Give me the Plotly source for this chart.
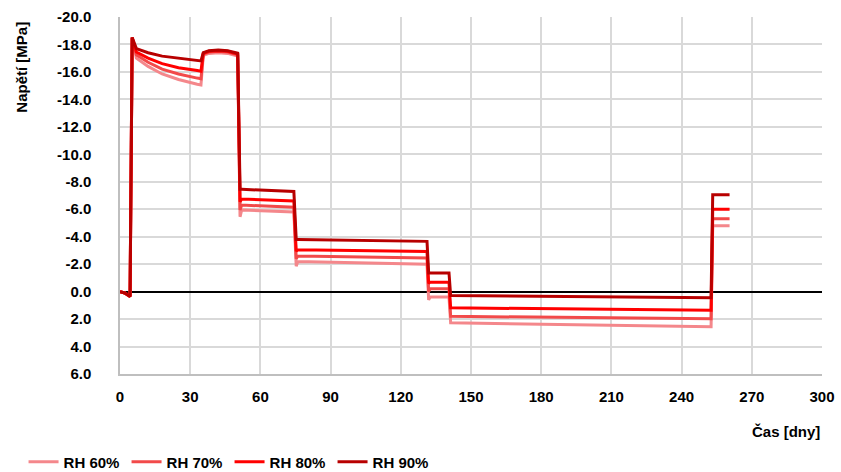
import plotly.graph_objects as go

# Time axis [days] shared by all humidity series
days = [0, 2, 4.3, 5.2, 7, 12, 18, 25, 33, 34.6, 35.6, 38, 42, 46, 50.3,
        51.3, 52.0, 74.3, 75.3, 76.0, 131.2, 131.9, 132.5, 140.6, 141.3,
        252.6, 253.3, 260.5]

# Stress [MPa] for each relative humidity
rh60 = [0, 0.1, 0.35, -18.5, -17.0, -16.4, -15.85, -15.45, -15.1, -15.05,
        -17.2, -17.35, -17.4, -17.35, -17.15, -5.45, -5.95, -5.8, -1.85,
        -2.2, -2.0, 0.6, 0.4, 0.4, 2.27, 2.55, -4.8, -4.8]
rh70 = [0, 0.1, 0.35, -18.5, -17.25, -16.7, -16.2, -15.85, -15.55, -15.5,
        -17.3, -17.45, -17.5, -17.45, -17.25, -5.95, -6.3, -6.15, -2.4,
        -2.6, -2.45, 0.0, -0.2, -0.2, 1.8, 1.98, -5.3, -5.3]
rh80 = [0, 0.1, 0.35, -18.5, -17.45, -17.0, -16.6, -16.3, -16.1, -16.05,
        -17.35, -17.5, -17.55, -17.5, -17.3, -6.55, -6.75, -6.6, -2.95,
        -3.05, -2.93, -0.6, -0.69, -0.69, 1.18, 1.36, -6.0, -6.0]
rh90 = [0, 0.1, 0.35, -18.5, -17.7, -17.4, -17.15, -17.0, -16.85, -16.8,
        -17.4, -17.55, -17.6, -17.55, -17.36, -7.45, -7.45, -7.3, -3.8,
        -3.8, -3.66, -1.36, -1.36, -1.36, 0.29, 0.44, -7.05, -7.05]

series_names = ["RH 60%", "RH 70%", "RH 80%", "RH 90%"]
series_values = [rh60, rh70, rh80, rh90]
series_colors = ["#F4878B", "#F24A4A", "#FF0000", "#B80000"]

x_ticks = [0, 30, 60, 90, 120, 150, 180, 210, 240, 270, 300]
y_ticks = [-20, -18, -16, -14, -12, -10, -8, -6, -4, -2, 0, 2, 4, 6]
y_tick_labels = ["-20.0", "-18.0", "-16.0", "-14.0", "-12.0", "-10.0", "-8.0",
                 "-6.0", "-4.0", "-2.0", "0.0", "2.0", "4.0", "6.0"]

FONT = "Liberation Sans, Arial, sans-serif"
BOLD = dict(family=FONT, size=15, color="black", weight="bold")

fig = go.Figure()
for name, vals, color in zip(series_names, series_values, series_colors):
    fig.add_trace(go.Scatter(
        x=days, y=vals, mode="lines", name=name,
        line=dict(color=color, width=3),
    ))

fig.update_layout(
    width=841, height=472,
    margin=dict(l=120, r=19, t=17, b=98, autoexpand=False),
    paper_bgcolor="white", plot_bgcolor="white",
    font=BOLD,
    showlegend=True,
    legend=dict(
        orientation="h", xref="container", yref="container",
        x=0.028, y=0.021, xanchor="left", yanchor="middle",
        entrywidth=58, entrywidthmode="pixels",
        font=BOLD, itemwidth=30, tracegroupgap=0,
    ),
    xaxis=dict(
        range=[0, 300], tickvals=x_ticks, showgrid=True,
        gridcolor="#D9D9D9", gridwidth=1.5,
        showline=True, linecolor="#BFBFBF", linewidth=1.5,
        zeroline=False, ticks="", ticklabelstandoff=8, automargin=False,
        tickfont=BOLD,
    ),
    yaxis=dict(
        range=[6, -20], tickvals=y_ticks, ticktext=y_tick_labels,
        showgrid=True, gridcolor="#D9D9D9", gridwidth=1.5,
        showline=True, linecolor="#BFBFBF", linewidth=1.5,
        zeroline=True, zerolinecolor="black", zerolinewidth=1.5,
        ticks="", ticklabelstandoff=24, automargin=False,
        tickfont=BOLD,
    ),
    annotations=[
        dict(text="Čas [dny]", xref="paper", yref="paper", x=1.0, y=-0.16,
             xanchor="right", yanchor="middle", showarrow=False, font=BOLD),
        dict(text="Napětí [MPa]", xref="paper", yref="paper", x=-0.14, y=0.86,
             xanchor="center", yanchor="middle", textangle=-90,
             showarrow=False, font=BOLD),
    ],
)

fig.write_html("out.html")
